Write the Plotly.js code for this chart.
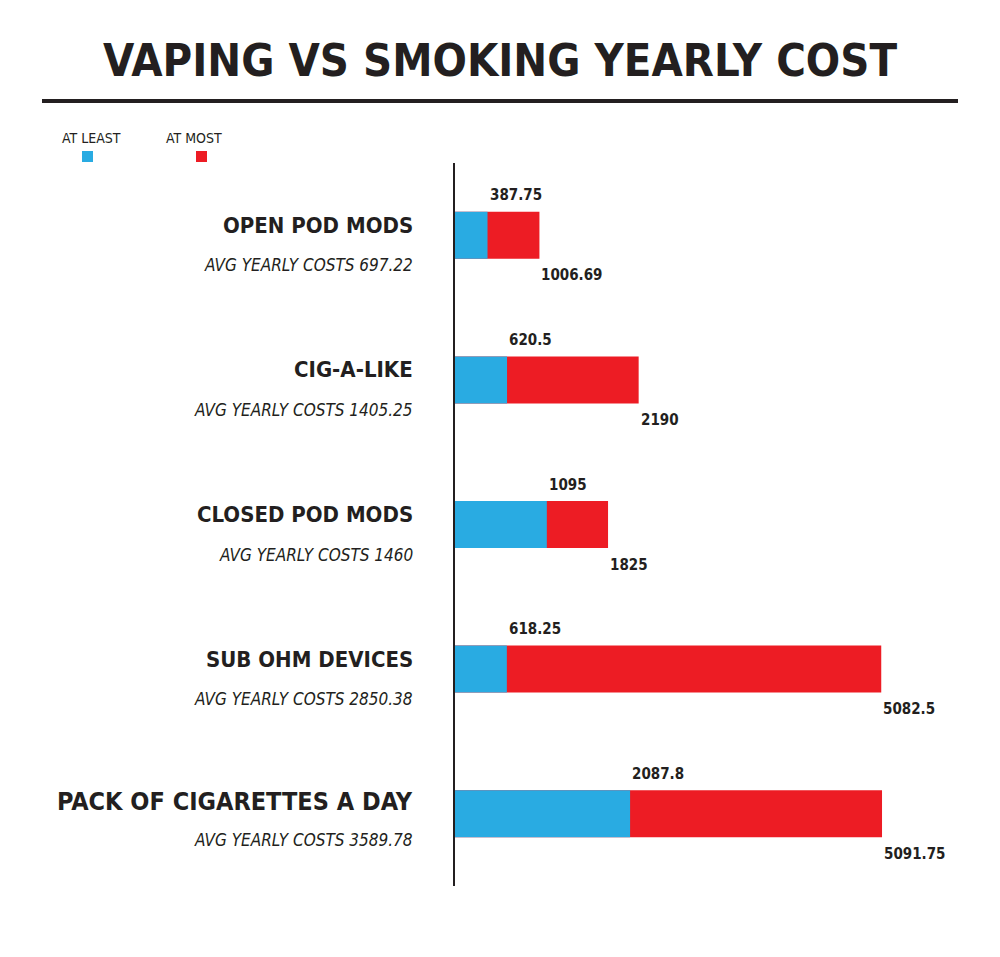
<!DOCTYPE html>
<html>
<head>
<meta charset="utf-8">
<script src="https://cdn.plot.ly/plotly-3.0.1.min.js"></script>
<style>html,body{margin:0;padding:0;background:#fff;}#chart{width:1000px;height:957px;}</style>
</head>
<body>
<div id="chart"></div>
<script>
const categories = ["OPEN POD MODS", "CIG-A-LIKE", "CLOSED POD MODS", "SUB OHM DEVICES", "PACK OF CIGARETTES A DAY"];
const avgYearly = ["697.22", "1405.25", "1460", "2850.38", "3589.78"];
const atLeast = [387.75, 620.5, 1095, 618.25, 2087.8];
const atMost = [1006.69, 2190, 1825, 5082.5, 5091.75];
const seriesNames = ["AT LEAST", "AT MOST"];

const BLUE = "#29ABE2", RED = "#ED1C24", INK = "#231F20";
const FONT = "'DejaVu Sans Condensed', 'Liberation Sans Narrow', sans-serif";

const traces = [
  {type: "bar", orientation: "h", name: seriesNames[1], y: categories, x: atMost,
   marker: {color: RED}, width: 0.325, hoverinfo: "x"},
  {type: "bar", orientation: "h", name: seriesNames[0], y: categories, x: atLeast,
   marker: {color: BLUE}, width: 0.325, hoverinfo: "x"}
];

const annotations = [];
categories.forEach((c, i) => {
  const big = i === categories.length - 1;
  annotations.push({x: 0, y: c, xref: "x", yref: "y", text: c, showarrow: false,
    xanchor: "right", yanchor: "middle", xshift: -40, yshift: big ? 12 : 10,
    font: {family: FONT, size: big ? 25 : 22, color: INK, weight: "bold"}});
  annotations.push({x: 0, y: c, xref: "x", yref: "y", text: "<i>AVG YEARLY COSTS " + avgYearly[i] + "</i>",
    showarrow: false, xanchor: "right", yanchor: "middle", xshift: -40, yshift: big ? -26 : -30,
    font: {family: FONT, size: 17, color: INK}});
  annotations.push({x: atLeast[i], y: c, xref: "x", yref: "y", text: String(atLeast[i]), showarrow: false,
    xanchor: "left", yanchor: "bottom", xshift: 0, yshift: 29,
    font: {family: FONT, size: 15, color: INK, weight: "bold"}});
  annotations.push({x: atMost[i], y: c, xref: "x", yref: "y", text: String(atMost[i]), showarrow: false,
    xanchor: "left", yanchor: "top", xshift: 0, yshift: -29,
    font: {family: FONT, size: 15, color: INK, weight: "bold"}});
});

function pxX(x){return (x - 455) / 500;}
function pxY(y){return (886 - y) / 723;}

annotations.push({xref: "paper", yref: "paper", x: pxX(60), y: pxY(138), text: seriesNames[0],
  showarrow: false, xanchor: "left", yanchor: "middle", font: {family: FONT, size: 14, color: INK}});
annotations.push({xref: "paper", yref: "paper", x: pxX(164), y: pxY(138), text: seriesNames[1],
  showarrow: false, xanchor: "left", yanchor: "middle", font: {family: FONT, size: 14, color: INK}});

const shapes = [
  {type: "line", xref: "paper", yref: "paper", x0: pxX(42), x1: pxX(958), y0: pxY(101), y1: pxY(101),
   line: {color: INK, width: 4}},
  {type: "rect", xref: "paper", yref: "paper", x0: pxX(82), x1: pxX(93), y0: pxY(162), y1: pxY(151),
   fillcolor: BLUE, line: {width: 0}},
  {type: "rect", xref: "paper", yref: "paper", x0: pxX(196), x1: pxX(207), y0: pxY(162), y1: pxY(151),
   fillcolor: RED, line: {width: 0}}
];

const layout = {
  width: 1000, height: 957,
  margin: {l: 455, r: 45, t: 163, b: 71, pad: 0},
  paper_bgcolor: "#fff", plot_bgcolor: "#fff",
  barmode: "overlay", showlegend: false,
  title: {text: "<b>VAPING VS SMOKING YEARLY COST</b>", x: 0.5, xanchor: "center",
    y: 1 - 60 / 957, yref: "container", yanchor: "middle",
    font: {family: FONT, size: 45, color: INK}},
  xaxis: {range: [0, 5962], visible: false, fixedrange: true},
  yaxis: {type: "category", autorange: "reversed", showline: true, linecolor: INK, linewidth: 2,
    showticklabels: false, ticks: "", showgrid: false, zeroline: false, fixedrange: true},
  annotations: annotations, shapes: shapes
};

Plotly.newPlot("chart", traces, layout, {displayModeBar: false, staticPlot: true});
</script>
</body>
</html>
